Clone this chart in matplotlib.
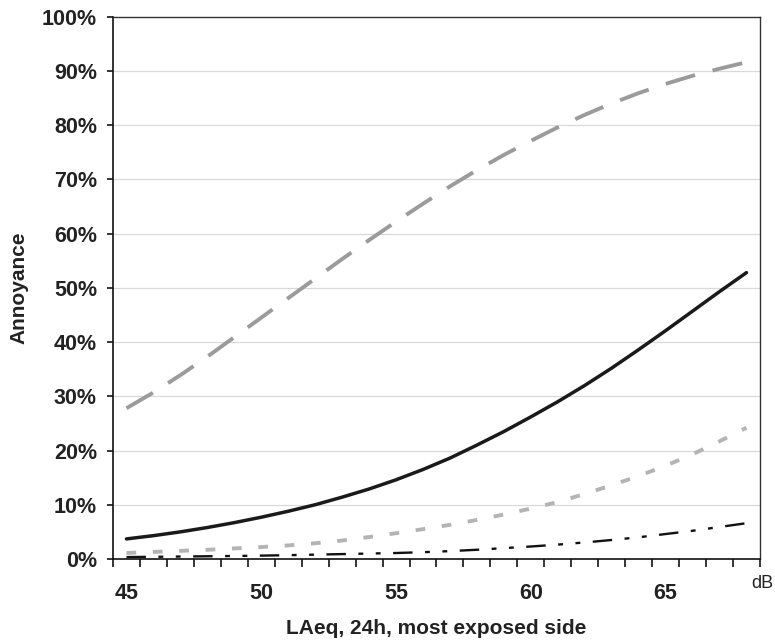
import numpy as np
import matplotlib
matplotlib.use("Agg")
import matplotlib.pyplot as plt
from matplotlib.ticker import FixedLocator

plt.rcParams['font.family'] = ['Liberation Sans', 'DejaVu Sans']
plt.rcParams['lines.scale_dashes'] = False

# noise level, dB
laeq = np.arange(45, 69)

# annoyance curves, percent
highly_gray = [27.8, 30.7, 33.9, 37.3, 40.9, 44.5, 48.1, 51.7, 55.3, 58.8,
               62.2, 65.5, 68.7, 71.7, 74.5, 77.1, 79.6, 81.9, 84.0, 85.9,
               87.6, 89.1, 90.4, 91.6]
annoyed_black = [3.7, 4.3, 5.0, 5.8, 6.7, 7.7, 8.8, 10.0, 11.4, 12.9,
                 14.6, 16.5, 18.6, 21.0, 23.5, 26.2, 29.0, 32.0, 35.2, 38.6,
                 42.1, 45.7, 49.3, 52.8]
light_gray = [1.1, 1.3, 1.5, 1.7, 1.95, 2.2, 2.5, 2.9, 3.4, 4.05,
              4.75, 5.5, 6.3, 7.2, 8.2, 9.3, 10.5, 12.0, 13.6, 15.3,
              17.2, 19.3, 21.7, 24.2]
dashdot_black = [0.35, 0.4, 0.45, 0.5, 0.55, 0.62, 0.7, 0.8, 0.9, 1.0,
                 1.1, 1.25, 1.45, 1.7, 2.0, 2.3, 2.65, 3.05, 3.5, 4.0,
                 4.6, 5.2, 5.9, 6.6]

y_ticks = np.arange(0, 101, 10)
x_labels = [45, 50, 55, 60, 65]

fig = plt.figure(figsize=(7.75, 6.4), dpi=100)
ax = fig.add_axes([0.1458, 0.1266, 0.8348, 0.8474])

for v in y_ticks[1:-1]:
    ax.axhline(v, color='#d9d9d9', lw=0.9, zorder=0)

ax.plot(laeq, highly_gray, color='#9b9b9b', lw=2.8, dashes=(22, 13), zorder=3)
ax.plot(laeq, annoyed_black, color='#1a1a1a', lw=2.5, solid_capstyle='round', zorder=4)
ax.plot(laeq, light_gray, color='#b4b4b4', lw=2.8, dashes=(7, 12), zorder=3)
ax.plot(laeq, dashdot_black, color='#111111', lw=1.7,
        dashes=(14, 9, 3.5, 9, 3.5, 9), zorder=3)

ax.set_xlim(44.5, 68.5)
ax.set_ylim(0, 100)

ax.set_yticks(y_ticks)
ax.set_yticklabels([f"{v}%" for v in y_ticks], fontsize=15.5, fontweight='bold', color='#222222')
ax.tick_params(axis='y', direction='out', length=4.5, width=1.1, pad=7)

ax.xaxis.set_major_locator(FixedLocator(x_labels))
ax.set_xticklabels([str(v) for v in x_labels], fontsize=15.5, fontweight='bold', color='#222222')
ax.xaxis.set_minor_locator(FixedLocator(np.arange(44.5, 68.6, 1.0)))
ax.tick_params(axis='x', which='major', length=0, pad=17)
ax.tick_params(axis='x', which='minor', direction='out', length=5.5, width=1.1)

for side in ['left', 'bottom']:
    ax.spines[side].set_linewidth(1.2)
    ax.spines[side].set_color('#111111')
for side in ['top', 'right']:
    ax.spines[side].set_linewidth(1.0)
    ax.spines[side].set_color('#333333')

ax.set_xlabel("LAeq, 24h, most exposed side", fontsize=15, fontweight='bold',
              color='#222222', labelpad=11)
ax.set_ylabel("Annoyance", fontsize=15, fontweight='bold', color='#222222', labelpad=10)

fig.text(762 / 775, 1 - 583 / 640, "dB", fontsize=13, ha='center', va='center', color='#222222')

fig.savefig("out.png", dpi=100)
